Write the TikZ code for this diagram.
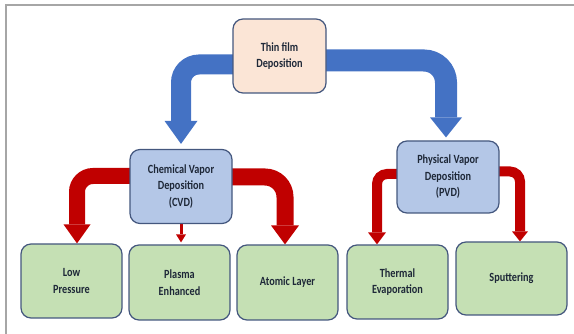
\documentclass[tikz,border=0pt]{standalone}
\usepackage{fontspec}
\setmainfont{Carlito}[FakeStretch=0.82]
\usetikzlibrary{arrows.meta,calc,backgrounds}
\definecolor{framegray}{HTML}{A6A6A6}
\definecolor{arrblue}{HTML}{4472C4}
\definecolor{arrred}{HTML}{C00000}
\definecolor{peach}{HTML}{FBE5D6}
\definecolor{lblue}{HTML}{B4C7E7}
\definecolor{lgreen}{HTML}{C5E0B4}
\definecolor{edge}{HTML}{44577E}
\definecolor{txt}{HTML}{1E2838}
\begin{document}
\begin{tikzpicture}[x=1pt,y=-1pt,
  box/.style={draw=edge, line width=1.2pt, rounded corners=10pt, align=center,
    text=txt, font=\fontsize{12.5}{16.5}\selectfont\bfseries, inner sep=2pt},
  topbox/.style={box, fill=peach, minimum width=93pt, minimum height=74pt},
  midbox/.style={box, fill=lblue, minimum width=102pt, minimum height=74pt},
  lowbox/.style={box, fill=lgreen, minimum width=101pt, minimum height=75pt},
  bent/.style n args={4}{line width=#1, rounded corners=#2,
    -{Triangle[width=#3,length=#4,line width=0pt]}},
]
\useasboundingbox (0,0) rectangle (574,334);
\draw[framegray, line width=2pt] (6,334) -- (6,5) -- (574,5);

\node[topbox] (top) at (279.5,56) {Thin film\\Deposition};
\node[midbox] (cvd) at (181,186.5) {Chemical Vapor\\Deposition\\(CVD)};
\node[midbox, minimum height=72pt] (pvd) at (448,177) {Physical Vapor\\Deposition\\(PVD)};
\node[lowbox, minimum height=74pt] (low) at (71.5,281) {Low\\Pressure};
\node[lowbox] (plasma) at (179.5,282.5) {Plasma\\Enhanced};
\node[lowbox] (atomic) at (287.5,282.5) {Atomic Layer};
\node[lowbox, minimum height=74pt] (thermal) at (397.5,282) {Thermal\\Evaporation};
\node[lowbox, minimum width=111pt, minimum height=73pt] (sputter) at (511.5,278.5) {Sputtering};

\begin{scope}[on background layer]
\draw[arrblue, bent={20pt}{18pt}{33pt}{23pt}, shorten >=5pt]
  ($(top.west)+(4,8.5)$) -| (cvd.north);
\draw[arrblue, bent={22pt}{22pt}{32pt}{20pt}, shorten >=3pt]
  ($(top.east)+(-4,4.5)$) -| ($(pvd.north)+(-2,0)$);
\draw[arrred, bent={16pt}{16pt}{27pt}{19pt}]
  ($(cvd.west)+(4,-10.5)$) -| ($(low.north)+(5.5,0)$);
\draw[arrred, bent={17pt}{20pt}{28pt}{19pt}]
  ($(cvd.east)+(-4,-9.5)$) -| ($(atomic.north)+(-2.5,0)$);
\draw[arrred, line width=3pt, -{Triangle[width=10pt,length=8pt,line width=0pt]}, shorten >=2pt]
  (cvd.south) -- (cvd.south |- plasma.north);
\draw[arrred, bent={10pt}{10pt}{18pt}{12pt}]
  ($(pvd.west)+(4,-3)$) -| ($(thermal.north)+(-20.5,0)$);
\draw[arrred, bent={10pt}{10pt}{16pt}{10pt}]
  ($(pvd.east)+(-4,-5.5)$) -| ($(sputter.north)+(8.5,0)$);
\end{scope}
\end{tikzpicture}
\end{document}
